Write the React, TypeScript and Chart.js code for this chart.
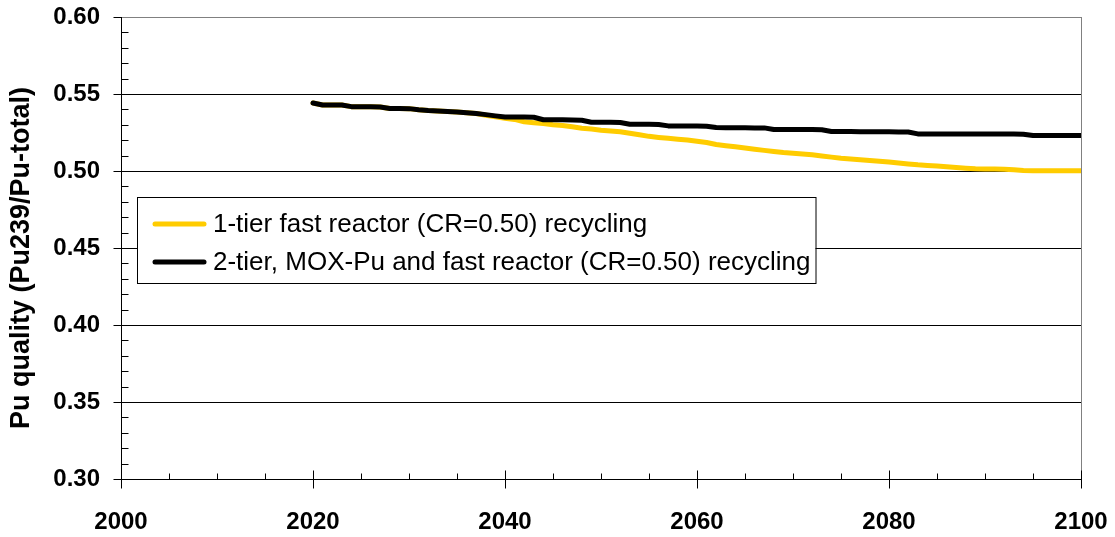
import { useEffect, useRef } from "react";
import { Chart, registerables } from "chart.js";

Chart.register(...registerables);

const years = [
  2020, 2021, 2022, 2023, 2024, 2025, 2026, 2027, 2028, 2029,
  2030, 2031, 2032, 2033, 2034, 2035, 2036, 2037, 2038, 2039,
  2040, 2041, 2042, 2043, 2044, 2045, 2046, 2047, 2048, 2049,
  2050, 2051, 2052, 2053, 2054, 2055, 2056, 2057, 2058, 2059,
  2060, 2061, 2062, 2063, 2064, 2065, 2066, 2067, 2068, 2069,
  2070, 2071, 2072, 2073, 2074, 2075, 2076, 2077, 2078, 2079,
  2080, 2081, 2082, 2083, 2084, 2085, 2086, 2087, 2088, 2089,
  2090, 2091, 2092, 2093, 2094, 2095, 2096, 2097, 2098, 2099,
  2100,
];

const oneTier = [
  0.5442, 0.5429, 0.5429, 0.5429, 0.5418, 0.5417, 0.5417, 0.5416, 0.5406, 0.5406,
  0.5405, 0.5398, 0.5393, 0.539, 0.5386, 0.5383, 0.5378, 0.5373, 0.5362, 0.5352,
  0.5343, 0.5335, 0.532, 0.5314, 0.5308, 0.53, 0.5295, 0.5287, 0.5278, 0.5272,
  0.5265, 0.526, 0.5255, 0.5245, 0.5235, 0.5225, 0.5218, 0.5212, 0.5206, 0.5201,
  0.5193, 0.5185, 0.5172, 0.5164, 0.5157, 0.5149, 0.5141, 0.5134, 0.5127, 0.512,
  0.5115, 0.511, 0.5105, 0.5098, 0.509, 0.5083, 0.5078, 0.5073, 0.5068, 0.5064,
  0.5058, 0.5052, 0.5046, 0.504, 0.5036, 0.5032, 0.5028, 0.5023, 0.5018, 0.5014,
  0.5013, 0.5013, 0.5012, 0.5008, 0.5003, 0.5002, 0.5002, 0.5002, 0.5002, 0.5002,
  0.5002,
];

const twoTier = [
  0.5442, 0.5429, 0.5429, 0.5429, 0.5418, 0.5417, 0.5417, 0.5416, 0.5406, 0.5406,
  0.5405, 0.5398, 0.5393, 0.539, 0.5386, 0.5383, 0.5378, 0.5373, 0.5366, 0.5358,
  0.5351, 0.535, 0.535, 0.5349, 0.5333, 0.5332, 0.5332, 0.5331, 0.533, 0.5317,
  0.5316, 0.5316, 0.5315, 0.5304, 0.5303, 0.5303, 0.5302, 0.5293, 0.5292, 0.5292,
  0.5292, 0.5291, 0.5282, 0.5281, 0.5281, 0.5281, 0.528, 0.528, 0.5269, 0.5269,
  0.5269, 0.527, 0.527, 0.5268, 0.5257, 0.5256, 0.5256, 0.5255, 0.5255, 0.5255,
  0.5255, 0.5254, 0.5253, 0.5241, 0.524, 0.524, 0.524, 0.524, 0.524, 0.524,
  0.524, 0.524, 0.524, 0.524, 0.5239, 0.523, 0.523, 0.523, 0.523, 0.523,
  0.523,
];

const seriesLabels = [
  "1-tier fast reactor (CR=0.50) recycling",
  "2-tier, MOX-Pu and fast reactor (CR=0.50) recycling",
];

const yAxisTitle = "Pu quality (Pu239/Pu-total)";

const xTickValues = [2000, 2020, 2040, 2060, 2080, 2100];
const yTickValues = [0.3, 0.35, 0.4, 0.45, 0.5, 0.55, 0.6];
const xMinorStep = 5;
const yMinorStep = 0.01;

const FONT = "'Liberation Sans', Arial, Helvetica, sans-serif";
const YELLOW = "#FFCC00";

const framePlugin = {
  id: "frame",
  beforeDatasetsDraw(chart: any) {
    const { ctx, chartArea } = chart;
    const { left, right, top, bottom } = chartArea;
    const xs = chart.scales.x;
    const ys = chart.scales.y;
    ctx.save();
    ctx.lineWidth = 1;
    yTickValues.forEach((v) => {
      const y = Math.round(ys.getPixelForValue(v)) + 0.5;
      if (v === yTickValues[0]) return;
      ctx.strokeStyle = v === yTickValues[yTickValues.length - 1] ? "#808080" : "#000";
      ctx.beginPath();
      ctx.moveTo(left, y);
      ctx.lineTo(right, y);
      ctx.stroke();
    });
    ctx.strokeStyle = "#808080";
    ctx.beginPath();
    ctx.moveTo(Math.round(right) + 0.5, top);
    ctx.lineTo(Math.round(right) + 0.5, bottom);
    ctx.stroke();
    ctx.strokeStyle = "#000";
    const lx = Math.round(left) + 0.5;
    const by = Math.round(bottom) + 0.5;
    ctx.beginPath();
    ctx.moveTo(lx, top);
    ctx.lineTo(lx, by);
    ctx.lineTo(right, by);
    ctx.stroke();
    yTickValues.forEach((v) => {
      const y = Math.round(ys.getPixelForValue(v)) + 0.5;
      ctx.beginPath();
      ctx.moveTo(lx - 8, y);
      ctx.lineTo(lx, y);
      ctx.stroke();
    });
    const yMin = yTickValues[0];
    const yMax = yTickValues[yTickValues.length - 1];
    for (let i = 1; yMin + i * yMinorStep < yMax - 1e-9; i++) {
      const v = yMin + i * yMinorStep;
      if (i % 5 === 0) continue;
      const y = Math.round(ys.getPixelForValue(v)) + 0.5;
      ctx.beginPath();
      ctx.moveTo(lx, y);
      ctx.lineTo(lx + 7, y);
      ctx.stroke();
    }
    xTickValues.forEach((v) => {
      const x = Math.round(xs.getPixelForValue(v)) + 0.5;
      ctx.beginPath();
      ctx.moveTo(x, by - 9);
      ctx.lineTo(x, by + 9);
      ctx.stroke();
    });
    const xMin = xTickValues[0];
    const xMax = xTickValues[xTickValues.length - 1];
    for (let v = xMin + xMinorStep; v < xMax; v += xMinorStep) {
      if ((v - xMin) % 20 === 0) continue;
      const x = Math.round(xs.getPixelForValue(v)) + 0.5;
      ctx.beginPath();
      ctx.moveTo(x, by - 6);
      ctx.lineTo(x, by);
      ctx.stroke();
    }
    // y axis title
    ctx.save();
    ctx.translate(22, 258);
    ctx.rotate(-Math.PI / 2);
    ctx.font = `bold 27px ${FONT}`;
    ctx.fillStyle = "#000";
    ctx.textAlign = "center";
    ctx.textBaseline = "middle";
    ctx.fillText(yAxisTitle, 0, 0);
    ctx.restore();
    ctx.restore();
  },
};

const legendPlugin = {
  id: "boxLegend",
  afterDatasetsDraw(chart: any) {
    const { ctx } = chart;
    const boxLeft = 137;
    const boxTop = 197;
    const boxHeight = 86;
    const textX = 213;
    const rowYs = [224, 262];
    ctx.save();
    ctx.font = `26px ${FONT}`;
    let maxW = 0;
    chart.data.datasets.forEach((ds: any) => {
      maxW = Math.max(maxW, ctx.measureText(ds.label).width);
    });
    const boxWidth = textX - boxLeft + maxW + 5;
    ctx.fillStyle = "#fff";
    ctx.fillRect(boxLeft, boxTop, boxWidth, boxHeight);
    ctx.strokeStyle = "#000";
    ctx.lineWidth = 1;
    ctx.strokeRect(boxLeft + 0.5, boxTop + 0.5, boxWidth, boxHeight);
    chart.data.datasets.forEach((ds: any, i: number) => {
      const y = rowYs[i];
      ctx.strokeStyle = ds.borderColor;
      ctx.lineWidth = 5;
      ctx.lineCap = "round";
      ctx.beginPath();
      ctx.moveTo(155, y);
      ctx.lineTo(204, y);
      ctx.stroke();
      ctx.fillStyle = "#000";
      ctx.textAlign = "left";
      ctx.textBaseline = "middle";
      ctx.fillText(ds.label, textX, y + 1);
    });
    ctx.restore();
  },
};

const zeroPad = (scale: any) => {
  scale.paddingTop = 0;
  scale.paddingBottom = 0;
  scale.paddingLeft = 0;
  scale.paddingRight = 0;
};

export default function App() {
  const canvasRef = useRef<HTMLCanvasElement | null>(null);

  useEffect(() => {
    if (!canvasRef.current) return;
    const chart = new Chart(canvasRef.current, {
      type: "line",
      data: {
        datasets: [
          {
            label: seriesLabels[0],
            data: years.map((y, i) => ({ x: y, y: oneTier[i] })),
            borderColor: YELLOW,
            borderWidth: 5,
            pointRadius: 0,
            tension: 0,
            order: 2,
            borderCapStyle: "round",
            borderJoinStyle: "round",
          },
          {
            label: seriesLabels[1],
            data: years.map((y, i) => ({ x: y, y: twoTier[i] })),
            borderColor: "#000",
            borderWidth: 5,
            pointRadius: 0,
            tension: 0,
            order: 1,
            borderCapStyle: "round",
            borderJoinStyle: "round",
          },
        ],
      },
      options: {
        animation: false,
        responsive: true,
        maintainAspectRatio: false,
        layout: { padding: { left: 0, top: 17, right: 34, bottom: 0 } },
        plugins: {
          legend: { display: false },
          tooltip: { enabled: false },
        },
        scales: {
          x: {
            type: "linear",
            min: xTickValues[0],
            max: xTickValues[xTickValues.length - 1],
            afterBuildTicks: (scale: any) => {
              scale.ticks = xTickValues.map((v) => ({ value: v }));
            },
            afterFit: (scale: any) => {
              scale.height = 58;
              zeroPad(scale);
            },
            grid: { display: false, drawTicks: false },
            border: { display: false },
            ticks: {
              padding: 29,
              color: "#000",
              font: { family: FONT, size: 24, weight: "bold" },
              maxRotation: 0,
              autoSkip: false,
              callback: (v: any) => String(v),
            },
          },
          y: {
            type: "linear",
            min: yTickValues[0],
            max: yTickValues[yTickValues.length - 1],
            afterBuildTicks: (scale: any) => {
              scale.ticks = yTickValues.map((v) => ({ value: v }));
            },
            afterFit: (scale: any) => {
              scale.width = 121;
              zeroPad(scale);
            },
            grid: { display: false, drawTicks: false },
            border: { display: false },
            ticks: {
              padding: 21,
              color: "#000",
              font: { family: FONT, size: 24, weight: "bold" },
              autoSkip: false,
              callback: (v: any) => Number(v).toFixed(2),
            },
          },
        },
      },
      plugins: [framePlugin, legendPlugin],
    });
    return () => chart.destroy();
  }, []);

  return (
    <div style={{ position: "fixed", left: 0, top: 0, width: 1115, height: 537, background: "#fff" }}>
      <canvas ref={canvasRef} />
    </div>
  );
}
